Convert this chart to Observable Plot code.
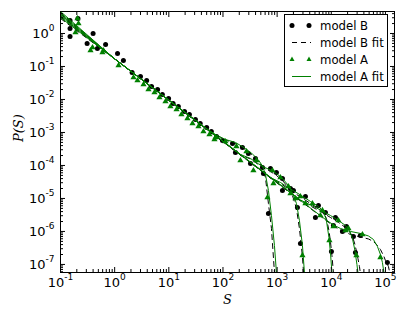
<!DOCTYPE html>
<html><head><meta charset="utf-8">
<script src="https://cdn.jsdelivr.net/npm/d3@7"></script>
<script src="https://cdn.jsdelivr.net/npm/@observablehq/plot@0.6"></script>
<style>body{margin:0;background:#fff}#chart{width:407px;height:320px}</style>
</head><body><div id="chart"></div>
<script>
// ---------- axis ticks ----------
const xMajor = [0.1, 1, 10, 100, 1000, 1e4, 1e5];
const yMajor = [1e-7, 1e-6, 1e-5, 1e-4, 1e-3, 1e-2, 1e-1, 1];
const xDomain = [0.1, 1.47e5];
const yDomain = [5.7e-8, 4.64];

// ---------- fits: value at S=0.1 per size, shared value at S=1, then tails ----------
const fitHeadS = [0.1, 1];
const fitA_start = [4.64, 4.18, 3.77, 3.39, 3.05];
const fitB_start = [4.33, 3.90, 3.51, 3.16, 2.85];
const fitAt1 = 0.17;

const tailS0 = [38.4, 72.7, 111, 170, 260, 350, 452, 536, 609, 691, 786, 892, 971, 1058];
const fitA0 = [1.746e-3, 8.70e-4, 6.13e-4, 4.98e-4, 3.27e-4, 2.23e-4, 1.468e-4, 9.66e-5, 5.34e-5, 1.747e-5, 3.05e-6, 3.76e-7, 5.72e-8, 4.04e-9];
const fitB0 = [1.746e-3, 8.40e-4, 5.92e-4, 4.64e-4, 3.05e-4, 2.08e-4, 1.369e-4, 8.70e-5, 4.33e-5, 7.05e-6, 1.233e-6, 5.72e-8, 8.11e-9, 1e-9];

const tailS1 = [210, 322, 398, 536, 753, 971, 1254, 1618, 1918, 2273, 2582, 2934, 3193, 3477];
const fitA1 = [2.154e-4, 1.63e-4, 1.277e-4, 9.33e-5, 7.31e-5, 5.72e-5, 4.04e-5, 2.477e-5, 1.52e-5, 7.05e-6, 2.154e-6, 3.76e-7, 5.72e-8, 4.04e-9];
const fitB1 = [2.08e-4, 1.574e-4, 1.233e-4, 8.70e-5, 6.58e-5, 4.98e-5, 3.51e-5, 2.154e-5, 1.233e-5, 4.98e-6, 1.233e-6, 1.747e-7, 2.31e-8, 2.01e-9];

const tailS2 = [753, 1152, 1762, 2695, 4122, 5791, 7164, 8137, 9050, 9645, 10280, 10958, 11930];
const fitA2 = [4.33e-5, 3.05e-5, 1.94e-5, 1.277e-5, 8.11e-6, 5.72e-6, 4.04e-6, 2.154e-6, 6.58e-7, 2.31e-7, 5.72e-8, 8.11e-9, 4.98e-10];
const fitB2 = [4.18e-5, 2.85e-5, 1.747e-5, 1.11e-5, 7.05e-6, 4.98e-6, 3.77e-6, 2.477e-6, 1.072e-6, 4.98e-7, 1.874e-7, 5.72e-8, 8.11e-9];

const tailS3 = [2695, 4122, 6305, 9645, 13550, 18250, 21630, 24570, 27330, 29760, 31050, 33090, 36030, 39230];
const fitA3 = [9.01e-6, 6.35e-6, 4.48e-6, 3.05e-6, 2.154e-6, 1.52e-6, 1.072e-6, 6.13e-7, 2.656e-7, 1.0e-7, 5.72e-8, 1.63e-8, 2.01e-9, 1.23e-10];
const fitB3 = [8.70e-6, 5.92e-6, 4.04e-6, 2.656e-6, 1.874e-6, 1.322e-6, 1.0e-6, 7.05e-7, 4.04e-7, 2.154e-7, 1.52e-7, 8.70e-8, 3.27e-8, 8.11e-9];

const tailS4 = [7798, 10958, 14750, 22570, 34520, 48510, 60000, 71100, 80770, 87960, 93740, 99910, 113500, 128990];
const fitA4 = [2.31e-6, 1.574e-6, 1.233e-6, 1.0e-6, 8.70e-7, 7.31e-7, 5.72e-7, 3.51e-7, 2.01e-7, 1.149e-7, 5.72e-8, 1.63e-8, 1e-9, 6.1e-11];
const fitB4 = [2.23e-6, 1.468e-6, 1.11e-6, 8.11e-7, 6.81e-7, 5.92e-7, 4.98e-7, 3.76e-7, 2.85e-7, 2.154e-7, 1.747e-7, 1.322e-7, 8.70e-8, 3.27e-8];

// ---------- data points ----------
const modelB_S = [0.15, 0.15, 0.15, 0.21, 0.31, 0.40, 0.48, 0.68, 1.13, 1.45, 2.1, 3.0, 3.9, 4.8, 6.2, 7.6, 9.9, 12, 15, 19.5, 24, 31, 38, 50, 61, 76,
  97.9, 150, 229, 295, 398, 536, 691, 753, 971, 1254, 1762, 2695, 2001, 3333, 5791, 10065, 7798, 11930, 19050, 27920, 25640, 34520, 108760,
  170, 322, 559, 1254, 2372, 5098, 10958, 16060];
const modelB_P = [2.48, 1.42, 0.811, 2.85, 0.498, 1.0, 0.351, 0.464, 0.248, 0.152, 0.0658, 0.0498, 0.0377, 0.0248, 0.0201, 0.01417, 0.01072, 7.57e-3, 6.13e-3, 4.33e-3, 3.51e-3, 2.477e-3, 1.874e-3, 1.417e-3, 1.072e-3, 7.57e-4,
  5.72e-4, 4.64e-4, 3.51e-4, 2.31e-4, 1.63e-4, 8.70e-5, 3.51e-6, 8.11e-5, 6.13e-5, 4.04e-5, 2.01e-5, 4.33e-7, 1.747e-5, 1.149e-5, 6.13e-6, 2.477e-7, 3.77e-6, 2.656e-6, 1.417e-6, 2.31e-7, 7.05e-7, 7.57e-7, 1.149e-7,
  2.477e-4, 1.149e-4, 5.72e-5, 1.747e-5, 5.34e-6, 2.656e-6, 1.52e-6, 1.0e-6];

const modelA_S = [0.206, 0.189, 0.215, 0.358, 0.390, 0.622, 0.596, 1.18, 2.23, 2.64, 3.41, 4.21, 5.44, 6.72, 8.68, 10.7, 13.9, 17.1, 22.1, 27.3, 35.3, 43.6, 56.3, 69.7,
  72.7, 111, 177, 271, 415, 663, 820, 1152, 1618, 2179, 2934, 2695, 4487, 6866, 9244, 13550, 20730, 29130, 18250, 37580, 80770,
  210, 365, 855, 1762, 3333, 6305, 10958];
const modelA_P = [2.85, 1.07, 2.01, 0.305, 0.376, 0.305, 0.266, 0.1072, 0.0464, 0.0377, 0.0285, 0.0201, 0.0163, 0.0115, 8.70e-3, 6.13e-3, 4.98e-3, 3.51e-3, 2.656e-3, 1.874e-3, 1.52e-3, 1.072e-3, 8.70e-4, 6.13e-4,
  7.05e-4, 5.34e-4, 3.77e-4, 2.656e-4, 1.417e-4, 1.072e-5, 7.05e-5, 4.33e-5, 2.31e-5, 1.0e-5, 1.874e-7, 1.149e-5, 7.05e-6, 4.33e-6, 5.34e-7, 2.154e-6, 1.233e-6, 1.874e-7, 1.072e-6, 8.11e-7, 1.63e-7,
  1.417e-4, 7.05e-5, 2.85e-5, 1.417e-5, 7.05e-6, 3.05e-6, 1.417e-6];

const legendLabels = ["model B", "model B fit", "model A", "model A fit"];
const green = "#008000";

// ---------- build tables ----------
const tailS = [tailS0, tailS1, tailS2, tailS3, tailS4];
const fitA = [fitA0, fitA1, fitA2, fitA3, fitA4];
const fitB = [fitB0, fitB1, fitB2, fitB3, fitB4];
function fitTable(starts, tails) {
  const rows = [];
  tails.forEach((tp, k) => {
    rows.push({k, S: fitHeadS[0], P: starts[k]});
    rows.push({k, S: fitHeadS[1], P: fitAt1});
    tailS[k].forEach((s, i) => rows.push({k, S: s, P: tp[i]}));
  });
  return rows;
}
const fitArows = fitTable(fitA_start, fitA);
const fitBrows = fitTable(fitB_start, fitB);
const ptsB = modelB_S.map((s, i) => ({S: s, P: modelB_P[i]}));
const ptsA = modelA_S.map((s, i) => ({S: s, P: modelA_P[i]}));

function minorTicks(lo, hi) {
  const out = [];
  for (let e = Math.floor(Math.log10(lo)); e <= Math.ceil(Math.log10(hi)); e++)
    for (let m = 2; m <= 9; m++) { const v = m * Math.pow(10, e); if (v > lo && v < hi) out.push(v); }
  return out;
}
const xMinor = minorTicks(xDomain[0], xDomain[1]);
const yMinor = minorTicks(yDomain[0], yDomain[1]);
const fmt = d => "10^" + Math.round(Math.log10(d));
const blank = () => "";

const plot = Plot.plot({
  width: 407, height: 320,
  marginLeft: 60, marginRight: 13, marginTop: 11, marginBottom: 48,
  style: {fontFamily: "DejaVu Sans", fontSize: "13px", background: "white", color: "black"},
  x: {type: "log", domain: xDomain, label: null},
  y: {type: "log", domain: yDomain, label: null},
  marks: [
    Plot.dot(ptsB, {x: "S", y: "P", r: 2.5, fill: "black", stroke: "none", clip: true}),
    Plot.line(fitBrows, {x: "S", y: "P", z: "k", stroke: "black", strokeWidth: 1, strokeDasharray: "5,4", clip: true}),
    Plot.dot(ptsA, {x: "S", y: "P", r: 2.3, symbol: "triangle", fill: green, stroke: "none", clip: true}),
    Plot.line(fitArows, {x: "S", y: "P", z: "k", stroke: green, strokeWidth: 1, clip: true}),
    Plot.frame({stroke: "black", strokeWidth: 1}),
    Plot.axisX(xMajor, {anchor: "bottom", tickSize: 0, tickPadding: 5, tickFormat: fmt}),
    Plot.axisY(yMajor, {anchor: "left", tickSize: 0, tickPadding: 6, tickFormat: fmt}),
    Plot.axisX(xMajor, {anchor: "bottom", tickSize: 5, dy: -5, tickFormat: blank, stroke: "black"}),
    Plot.axisX(xMajor, {anchor: "top", tickSize: 5, dy: 5, tickFormat: blank, stroke: "black"}),
    Plot.axisY(yMajor, {anchor: "left", tickSize: 5, dx: 5, tickFormat: blank, stroke: "black"}),
    Plot.axisY(yMajor, {anchor: "right", tickSize: 5, dx: -5, tickFormat: blank, stroke: "black"}),
    Plot.axisX(xMinor, {anchor: "bottom", tickSize: 3, dy: -3, tickFormat: blank, stroke: "black"}),
    Plot.axisX(xMinor, {anchor: "top", tickSize: 3, dy: 3, tickFormat: blank, stroke: "black"}),
    Plot.axisY(yMinor, {anchor: "left", tickSize: 3, dx: 3, tickFormat: blank, stroke: "black"}),
    Plot.axisY(yMinor, {anchor: "right", tickSize: 3, dx: -3, tickFormat: blank, stroke: "black"}),
    Plot.text(["S"], {text: d => d, frameAnchor: "bottom", dy: 31, lineAnchor: "bottom", fontFamily: "DejaVu Serif", fontStyle: "italic", fontSize: 13}),
    Plot.text(["P(S)"], {text: d => d, frameAnchor: "left", dx: -42, rotate: -90, fontFamily: "DejaVu Serif", fontStyle: "italic", fontSize: 13})
  ]
});

// superscript exponents in tick labels
const NS = "http://www.w3.org/2000/svg";
plot.querySelectorAll("text").forEach(t => {
  const m = t.textContent.match(/^10\^(-?\d+)$/);
  if (m) {
    t.textContent = "10";
    const ts = document.createElementNS(NS, "tspan");
    ts.setAttribute("dy", "-6.5");
    ts.setAttribute("font-size", "9px");
    ts.textContent = m[1];
    t.appendChild(ts);
  }
});

// legend box (inside the svg)
const lg = d3.select(plot).append("g")
  .attr("font-family", "DejaVu Sans").attr("font-size", "11.7px").attr("text-anchor", "start");
lg.append("rect").attr("x", 284.5).attr("y", 14.5).attr("width", 103).attr("height", 72)
  .style("fill", "white").style("stroke", "black").style("stroke-width", "1px");
const rowY = [25.5, 42.5, 59.5, 76.5];
[292, 309].forEach(x => lg.append("circle").attr("cx", x).attr("cy", rowY[0]).attr("r", 2.5).style("fill", "black"));
lg.append("line").attr("x1", 292).attr("x2", 311).attr("y1", rowY[1]).attr("y2", rowY[1])
  .style("stroke", "black").style("stroke-dasharray", "5,4");
const tri = d3.symbol(d3.symbolTriangle, 11)();
[292, 309].forEach(x => lg.append("path").attr("d", tri).attr("transform", `translate(${x},${rowY[2]})`).style("fill", green));
lg.append("line").attr("x1", 292).attr("x2", 311).attr("y1", rowY[3]).attr("y2", rowY[3]).style("stroke", green);
legendLabels.forEach((s, i) => lg.append("text").attr("x", 320).attr("y", rowY[i] + 4).style("fill", "black").text(s));

document.getElementById("chart").appendChild(plot);
</script></body></html>
